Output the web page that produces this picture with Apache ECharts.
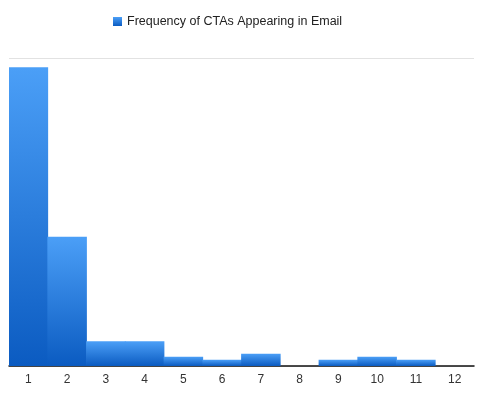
<!DOCTYPE html>
<html>
<head>
<meta charset="utf-8">
<script src="https://cdn.jsdelivr.net/npm/echarts@6/dist/echarts.min.js"></script>
<style>html,body{margin:0;padding:0;background:#fff;}#c{width:486px;height:397px;}</style>
</head>
<body>
<div id="c"></div>
<script>
const categories = ['1','2','3','4','5','6','7','8','9','10','11','12'];
const seriesName = 'Frequency of CTAs Appearing in Email';
const values = [97, 42, 8, 8, 3, 2, 4, 0, 2, 3, 2, 0];
const yMax = 100;

const grad = new echarts.graphic.LinearGradient(0, 0, 0, 1, [
  {offset: 0, color: '#4b9ff7'},
  {offset: 1, color: '#0b5bc1'}
]);

const chart = echarts.init(document.getElementById('c'));
chart.setOption({
  animation: false,
  backgroundColor: '#fff',
  legend: {
    data: [seriesName],
    top: 10,
    left: 108,
    itemWidth: 9,
    itemHeight: 9,
    itemGap: 8,
    icon: 'rect',
    textStyle: {fontFamily: 'Liberation Sans, Arial, sans-serif', fontSize: 12.5, color: '#222'}
  },
  grid: {left: 9, right: 12, top: 58, bottom: 31, containLabel: false},
  xAxis: {
    type: 'category',
    data: categories,
    axisLine: {lineStyle: {color: '#111', width: 1.5}},
    axisTick: {show: false},
    axisLabel: {margin: 8, fontFamily: 'Liberation Sans, Arial, sans-serif', fontSize: 12, color: '#333'}
  },
  yAxis: {
    type: 'value',
    min: 0,
    max: yMax,
    interval: yMax,
    axisLabel: {show: false},
    axisLine: {show: false},
    axisTick: {show: false},
    splitLine: {lineStyle: {color: '#e2e2e2', width: 1}}
  },
  series: [{
    name: seriesName,
    type: 'bar',
    data: values,
    barWidth: '102%',
    itemStyle: {color: grad}
  }]
});
</script>
</body>
</html>
